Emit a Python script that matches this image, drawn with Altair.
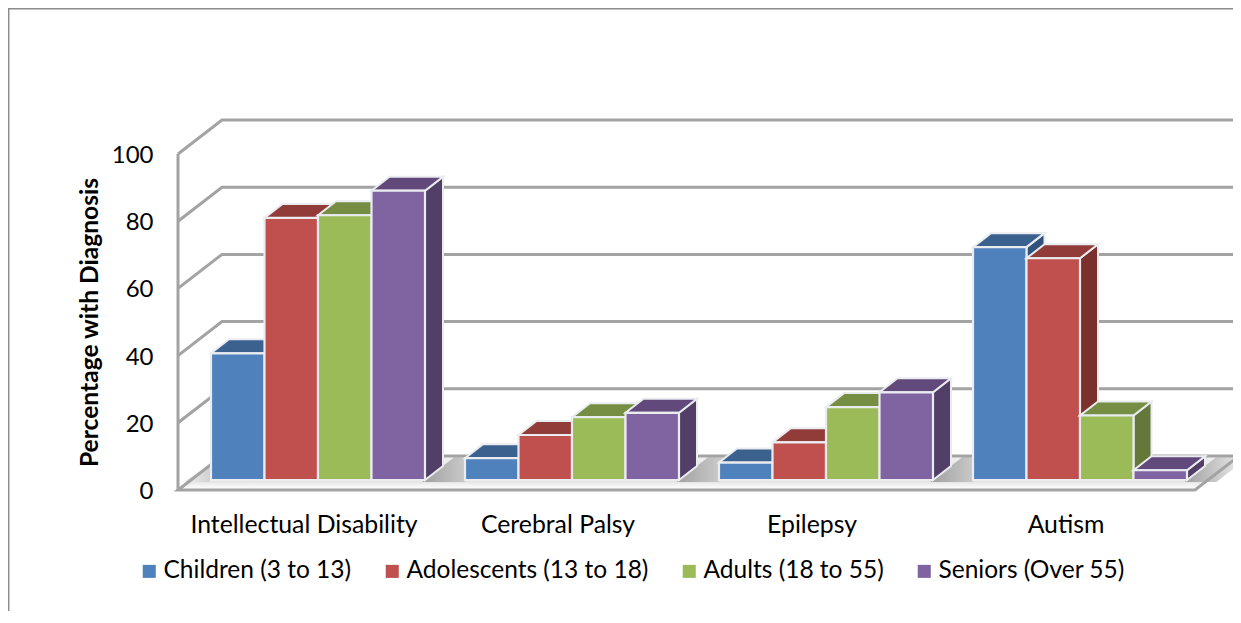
import altair as alt
import pandas as pd

categories = ["Intellectual Disability", "Cerebral Palsy", "Epilepsy", "Autism"]
series = ["Children (3 to 13)", "Adolescents (13 to 18)", "Adults (18 to 55)", "Seniors (Over 55)"]
children = [37.7, 6.5, 5.2, 69.3]
adolescents = [78.0, 13.4, 11.2, 66.0]
adults = [78.8, 18.7, 21.7, 19.2]
seniors = [86.1, 20.0, 26.1, 2.9]
values = [children, adolescents, adults, seniors]
front_colors = ["#4F81BD", "#C0504D", "#9BBB59", "#8064A2"]
top_colors = ["#3B618F", "#923C3A", "#758E43", "#61497C"]
side_colors = ["#30527C", "#7B302E", "#64783A", "#523F67"]
ticks = [0, 20, 40, 60, 80, 100]

FONT = "Lato"
PX = 3.36            # pixels per percentage point
BX0, BW, PERIOD = 211.0, 53.5, 254.0
BASE = 10 / PX       # bars stand slightly behind the front edge of the floor
DX, DY = 18, 14 / PX # bar depth
WX, WY = 44, 34 / PX # wall depth
XL, XR, XF = 178, 1233, 1195
H = 603
YTOP = 482 / PX
YBOT = (482 - H) / PX
EDGE = "#EAECEF"
GRID = "#A3A3A3"

x_scale = alt.Scale(domain=[XL, XR], range=[0, XR - XL], nice=False, zero=False)
y_scale = alt.Scale(domain=[YBOT, YTOP], range=[H, 0], nice=False, zero=False)
X = lambda f="x": alt.X(f"{f}:Q", scale=x_scale, axis=None)
Y = lambda f="y": alt.Y(f"{f}:Q", scale=y_scale, axis=None)


def hgrad(c0, c1):
    return alt.Gradient(gradient="linear", x1=0, y1=0, x2=1, y2=0,
                        stops=[alt.GradientStop(offset=0, color=c0),
                               alt.GradientStop(offset=1, color=c1)])


layers = []

# frame
layers.append(alt.Chart(pd.DataFrame({"x": [8.5], "x2": [XR], "y": [YTOP - 0.2]}))
              .mark_rule(color="#8C8C8C", strokeWidth=1.5)
              .encode(x=X(), x2="x2:Q", y=Y()))
layers.append(alt.Chart(pd.DataFrame({"x": [8.7], "y": [YTOP], "y2": [YBOT]}))
              .mark_rule(color="#8C8C8C", strokeWidth=1.5)
              .encode(x=X(), y=Y(), y2="y2:Q"))

# floor
floor = pd.DataFrame({"y": [0, WY], "x": [XL, XL + WX], "x2": [XF, XF + WX]})
layers.append(alt.Chart(floor).mark_area(
    orient="horizontal",
    color=alt.Gradient(gradient="linear", x1=0, y1=0, x2=0, y2=1,
                       stops=[alt.GradientStop(offset=0, color="#F2F2F2"),
                              alt.GradientStop(offset=0.68, color="#DADADA"),
                              alt.GradientStop(offset=0.85, color="#F2F2F2"),
                              alt.GradientStop(offset=1, color="#FFFFFF")])
).encode(x=X(), x2="x2:Q", y=Y()))

# soft shadows on the floor, to the right of each group of bars and left of the first
y0, y1 = BASE * 0.8, WY - 0.4
t0 = (y0 - BASE) / DY
t1 = (y1 - BASE) / DY
for c in range(4):
    R = BX0 + c * PERIOD + 4 * BW
    span = 42 if c < 3 else 32
    patch = pd.DataFrame({"y": [y0, y1],
                          "x": [R + t0 * DX, R + t1 * DX],
                          "x2": [R + span + t0 * DX, R + span + t1 * DX]})
    layers.append(alt.Chart(patch).mark_area(
        orient="horizontal", color=hgrad("#A0A0A0", "#E6E6E6" if c < 3 else "#F2F2F2")
    ).encode(x=X(), x2="x2:Q", y=Y()))
left = pd.DataFrame({"y": [y0, y1],
                     "x": [XL + 4, XL + 4 + WX],
                     "x2": [BX0 + t0 * DX, BX0 + t1 * DX]})
layers.append(alt.Chart(left).mark_area(
    orient="horizontal", color=hgrad("#F4F4F4", "#ABABAB")
).encode(x=X(), x2="x2:Q", y=Y()))

layers.append(alt.Chart(floor).mark_area(
    orient="horizontal", fillOpacity=0, stroke=GRID, strokeWidth=3
).encode(x=X(), x2="x2:Q", y=Y()))

# grid: front wall edge, then along the back wall
rows = []
for t in ticks[1:]:
    rows += [{"level": t, "o": 0, "x": XL, "y": t},
             {"level": t, "o": 1, "x": XL + WX, "y": t + WY},
             {"level": t, "o": 2, "x": XR, "y": t + WY}]
layers.append(alt.Chart(pd.DataFrame(rows)).mark_line(color=GRID, strokeWidth=3, strokeJoin="miter")
              .encode(x=X(), y=Y(), detail="level:N", order="o:Q"))
layers.append(alt.Chart(pd.DataFrame({"x": [XL], "y": [100], "y2": [0]}))
              .mark_rule(color=GRID, strokeWidth=3)
              .encode(x=X(), y=Y(), y2="y2:Q"))

color_scale = alt.Scale(domain=series, range=front_colors)
legend = alt.Legend(
    orient="none", legendX=-41, legendY=551, direction="horizontal", columns=4, title=None,
    symbolType="square", symbolSize=170, symbolStrokeWidth=0, labelFont=FONT, labelFontSize=24.5,
    labelColor="#000000", labelOffset=2, columnPadding=28, labelLimit=400)

# bars, painted from left to right so that each one covers its neighbour's side
for s, name in enumerate(series):
    side, top, front = [], [], []
    for c, cat in enumerate(categories):
        v = values[s][c]
        L = BX0 + c * PERIOD + s * BW
        R = L + BW
        side += [{"cat": cat, "x": R, "y": v + BASE, "y2": BASE},
                 {"cat": cat, "x": R + DX, "y": v + BASE + DY, "y2": BASE + DY}]
        top += [{"cat": cat, "x": L, "x2": R, "y": v + BASE},
                {"cat": cat, "x": L + DX, "x2": R + DX, "y": v + BASE + DY}]
        front.append({"cat": cat, "series": name, "x": L, "x2": R, "y": v + BASE, "y2": BASE})
    layers.append(alt.Chart(pd.DataFrame(side)).mark_area(
        orient="vertical", color=side_colors[s], stroke=EDGE, strokeWidth=2
    ).encode(x=X(), y=Y(), y2="y2:Q", detail="cat:N"))
    layers.append(alt.Chart(pd.DataFrame(top)).mark_area(
        orient="horizontal", color=top_colors[s], stroke=EDGE, strokeWidth=2
    ).encode(x=X(), x2="x2:Q", y=Y(), detail="cat:N"))
    layers.append(alt.Chart(pd.DataFrame(front)).mark_bar(
        stroke=EDGE, strokeWidth=2.2, cornerRadius=0
    ).encode(x=X(), x2="x2:Q", y=Y(), y2="y2:Q",
             color=alt.Color("series:N", scale=color_scale, legend=legend)))

# category labels
labels = pd.DataFrame({"cat": categories,
                       "x": [BX0 + c * PERIOD + 2 * BW - 14 for c in range(4)],
                       "y": [-36 / PX] * 4})
layers.append(alt.Chart(labels).mark_text(font=FONT, fontSize=24.8, color="#000000", align="center", baseline="middle")
              .encode(x=X(), y=Y(), text="cat:N"))

# y axis labels and title
layers.append(alt.Chart(pd.DataFrame({"t": ticks})).mark_point(opacity=0).encode(
    y=alt.Y("t:Q", scale=y_scale, axis=alt.Axis(
        values=ticks, domain=False, ticks=False, grid=False, labelPadding=25, labelOffset=1.5,
        labelFont=FONT, labelFontSize=24, labelColor="#000000",
        title="Percentage with Diagnosis", titleFont=FONT, titleFontSize=24.6, titleFontWeight="bold",
        titleColor="#000000", titleX=-88, titleY=314, titleAngle=270, titleAlign="center", titleBaseline="middle"))))

chart = alt.layer(*layers).resolve_axis(y="independent").properties(
    width=XR - XL, height=H, autosize="none", background="#FFFFFF",
    padding={"left": 170, "top": 0, "right": 0, "bottom": 0}
).configure_view(stroke=None)

chart.save("out.html", embed_options={"renderer": "svg", "actions": False})
